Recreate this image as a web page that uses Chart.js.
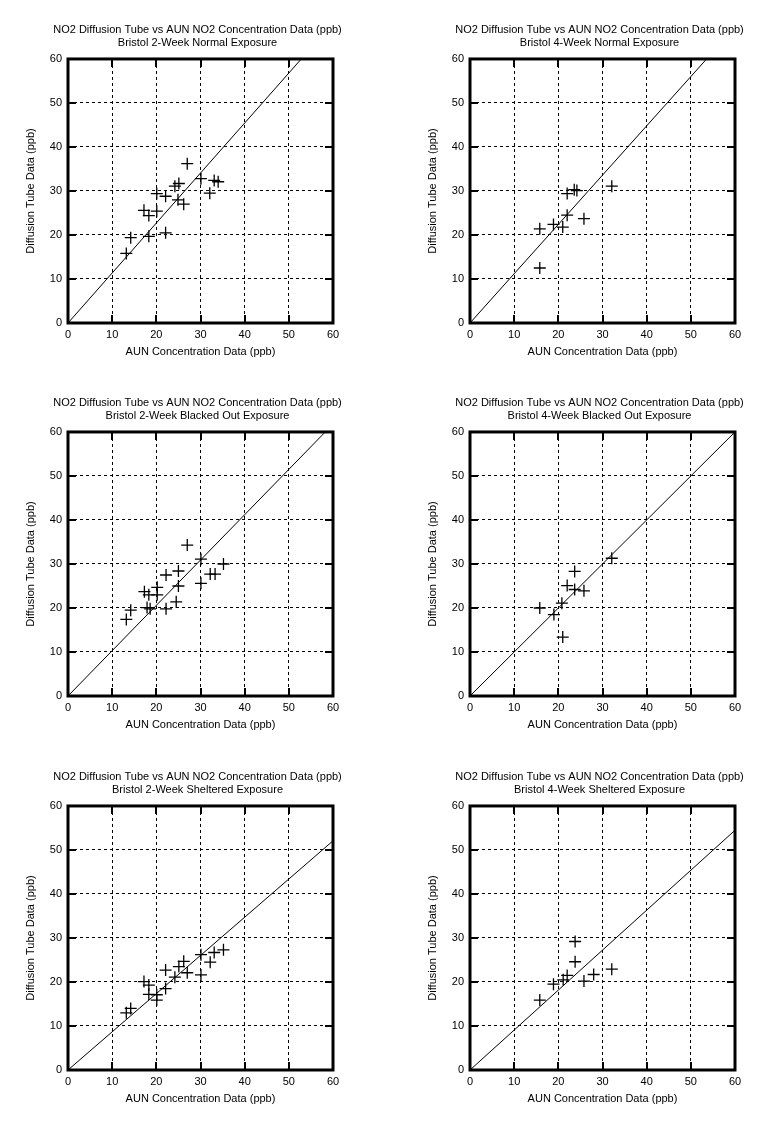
<!DOCTYPE html>
<html>
<head>
<meta charset="utf-8">
<script src="https://cdn.jsdelivr.net/npm/chart.js@4/dist/chart.umd.min.js"></script>
<style>
  html, body { margin: 0; padding: 0; background: #fff; }
  body { width: 774px; height: 1143px; position: relative; overflow: hidden; }
  canvas { position: absolute; }
</style>
</head>
<body>
<canvas id="c0"></canvas>
<canvas id="c1"></canvas>
<canvas id="c2"></canvas>
<canvas id="c3"></canvas>
<canvas id="c4"></canvas>
<canvas id="c5"></canvas>
<script>
// ---- data ----
const mainTitle = 'NO2 Diffusion Tube vs AUN NO2 Concentration Data (ppb)';
const subTitles = [
  'Bristol 2-Week Normal Exposure',
  'Bristol 4-Week Normal Exposure',
  'Bristol 2-Week Blacked Out Exposure',
  'Bristol 4-Week Blacked Out Exposure',
  'Bristol 2-Week Sheltered Exposure',
  'Bristol 4-Week Sheltered Exposure'
];
const xAxisTitle = 'AUN Concentration Data (ppb)';
const yAxisTitle = 'Diffusion Tube Data (ppb)';
const tickValues = [0, 10, 20, 30, 40, 50, 60];

const aun2wkNormal  = [27.0, 30.1, 33.1, 34.0, 24.2, 25.1, 32.1, 20.1, 22.1, 24.9, 26.2, 17.2, 18.3, 20.1, 14.2, 18.3, 22.1, 13.2];
const tube2wkNormal = [36.2, 32.8, 32.4, 32.1, 31.1, 31.7, 29.5, 29.4, 28.8, 28.0, 27.0, 25.6, 24.4, 25.4, 19.4, 19.7, 20.5, 15.8];

const aun4wkNormal  = [32.1, 23.6, 24.2, 22.0, 22.0, 25.8, 18.9, 21.0, 15.8, 15.8];
const tube4wkNormal = [31.1, 30.3, 30.1, 29.4, 24.5, 23.7, 22.4, 21.8, 21.4, 12.5];

const aun2wkBlack  = [27.0, 30.1, 35.2, 25.0, 22.2, 32.2, 33.3, 30.1, 25.0, 20.2, 17.3, 18.3, 20.2, 24.5, 17.9, 18.6, 22.2, 14.2, 13.2];
const tube2wkBlack = [34.3, 31.1, 30.0, 28.4, 27.5, 27.7, 27.7, 25.6, 25.0, 24.7, 23.7, 23.0, 23.0, 21.4, 20.1, 19.8, 19.8, 19.5, 17.4];

const aun4wkBlack  = [32.1, 23.7, 22.0, 23.7, 25.8, 20.8, 15.8, 19.0, 21.0];
const tube4wkBlack = [31.3, 28.3, 25.1, 24.2, 23.9, 21.1, 20.0, 18.5, 13.4];

const aun2wkShelter  = [35.2, 33.1, 30.1, 32.2, 26.2, 25.1, 22.1, 27.0, 30.1, 24.2, 17.2, 18.3, 18.3, 20.1, 20.1, 22.1, 14.2, 13.2];
const tube2wkShelter = [27.3, 26.7, 26.2, 24.5, 24.7, 23.5, 22.7, 22.1, 21.6, 21.1, 20.1, 19.3, 17.2, 17.1, 15.9, 18.5, 14.0, 13.0];

const aun4wkShelter  = [23.8, 23.8, 32.1, 28.0, 22.0, 25.8, 21.1, 18.9, 15.8];
const tube4wkShelter = [29.2, 24.6, 22.9, 21.7, 21.5, 20.2, 20.5, 19.5, 15.9];

const fitSlopes = [1.136, 1.12, 1.03, 1.0, 0.868, 0.908];

const xSeries = [aun2wkNormal, aun4wkNormal, aun2wkBlack, aun4wkBlack, aun2wkShelter, aun4wkShelter];
const ySeries = [tube2wkNormal, tube4wkNormal, tube2wkBlack, tube4wkBlack, tube2wkShelter, tube4wkShelter];

// ---- layout ----
const FONT = '"Liberation Sans", Arial, Helvetica, sans-serif';
Chart.defaults.color = '#000';
Chart.defaults.font.family = FONT;
Chart.defaults.font.size = 11;

const colLeft = [0, 402];
const rowTop = [0, 373, 747];
const CW = 395, CH = 368;

const framePlugin = {
  id: 'frame',
  afterDraw(chart) {
    const {ctx, chartArea: a, scales} = chart;
    ctx.save();
    ctx.strokeStyle = '#000';
    ctx.lineWidth = 2;
    ctx.beginPath();
    tickValues.forEach(v => {
      const px = Math.round(scales.x.getPixelForValue(v));
      const py = Math.round(scales.y.getPixelForValue(v));
      ctx.moveTo(px, a.bottom); ctx.lineTo(px, a.bottom - 8);
      ctx.moveTo(px, a.top); ctx.lineTo(px, a.top + 8);
      ctx.moveTo(a.left, py); ctx.lineTo(a.left + 8, py);
      ctx.moveTo(a.right, py); ctx.lineTo(a.right - 8, py);
    });
    ctx.stroke();
    ctx.lineWidth = 3;
    ctx.strokeRect(a.left, a.top, a.right - a.left, a.bottom - a.top);
    ctx.restore();
  }
};

for (let i = 0; i < 6; i++) {
  const cv = document.getElementById('c' + i);
  cv.width = CW; cv.height = CH;
  cv.style.left = colLeft[i % 2] + 'px';
  cv.style.top = rowTop[Math.floor(i / 2)] + 'px';
  cv.style.width = CW + 'px'; cv.style.height = CH + 'px';

  const pts = xSeries[i].map((x, k) => ({x: x, y: ySeries[i][k]}));
  const lineMax = 60;
  const fit = [{x: 0, y: 0}, {x: lineMax, y: lineMax * fitSlopes[i]}];

  new Chart(cv, {
    type: 'scatter',
    data: {
      datasets: [
        {
          data: pts,
          pointStyle: 'cross',
          pointRadius: 6,
          pointHoverRadius: 6,
          borderColor: '#000',
          backgroundColor: '#000',
          pointBorderWidth: 1.3,
          showLine: false
        },
        {
          type: 'line',
          data: fit,
          borderColor: '#000',
          borderWidth: 1,
          pointRadius: 0,
          fill: false,
          tension: 0
        }
      ]
    },
    options: {
      responsive: false,
      animation: false,
      devicePixelRatio: 1,
      layout: { padding: 0 },
      plugins: {
        legend: { display: false },
        tooltip: { enabled: false },
        title: {
          display: true,
          fullSize: true,
          text: [mainTitle, subTitles[i]],
          color: '#000',
          font: { size: 11, weight: 'normal', lineHeight: 1.18, family: FONT },
          padding: { top: 23.5, bottom: 9.5 }
        }
      },
      scales: {
        x: {
          type: 'linear',
          min: 0, max: 60,
          afterFit(s) { s.height = 45; },
          ticks: { stepSize: 10, autoSkip: false, padding: 5, maxRotation: 0, font: { size: 11 } },
          grid: { color: '#000', lineWidth: 1, drawTicks: false },
          border: { display: false, dash: [3, 3] },
          title: { display: true, text: xAxisTitle, font: { size: 11 }, padding: { top: 0, bottom: 9.5 } }
        },
        y: {
          type: 'linear',
          min: 0, max: 60,
          afterFit(s) { s.width = 68; },
          ticks: { stepSize: 10, autoSkip: false, padding: 6, font: { size: 11 } },
          grid: { color: '#000', lineWidth: 1, drawTicks: false },
          border: { display: false, dash: [3, 3] },
          title: { display: true, text: yAxisTitle, font: { size: 11 }, padding: { top: 24, bottom: 0 } }
        },
        spacer: {
          type: 'linear',
          position: 'right',
          min: 0, max: 60,
          afterFit(s) { s.width = 62; },
          ticks: { display: false },
          grid: { display: false, drawTicks: false },
          border: { display: false }
        }
      }
    },
    plugins: [framePlugin]
  });
}
</script>
</body>
</html>
